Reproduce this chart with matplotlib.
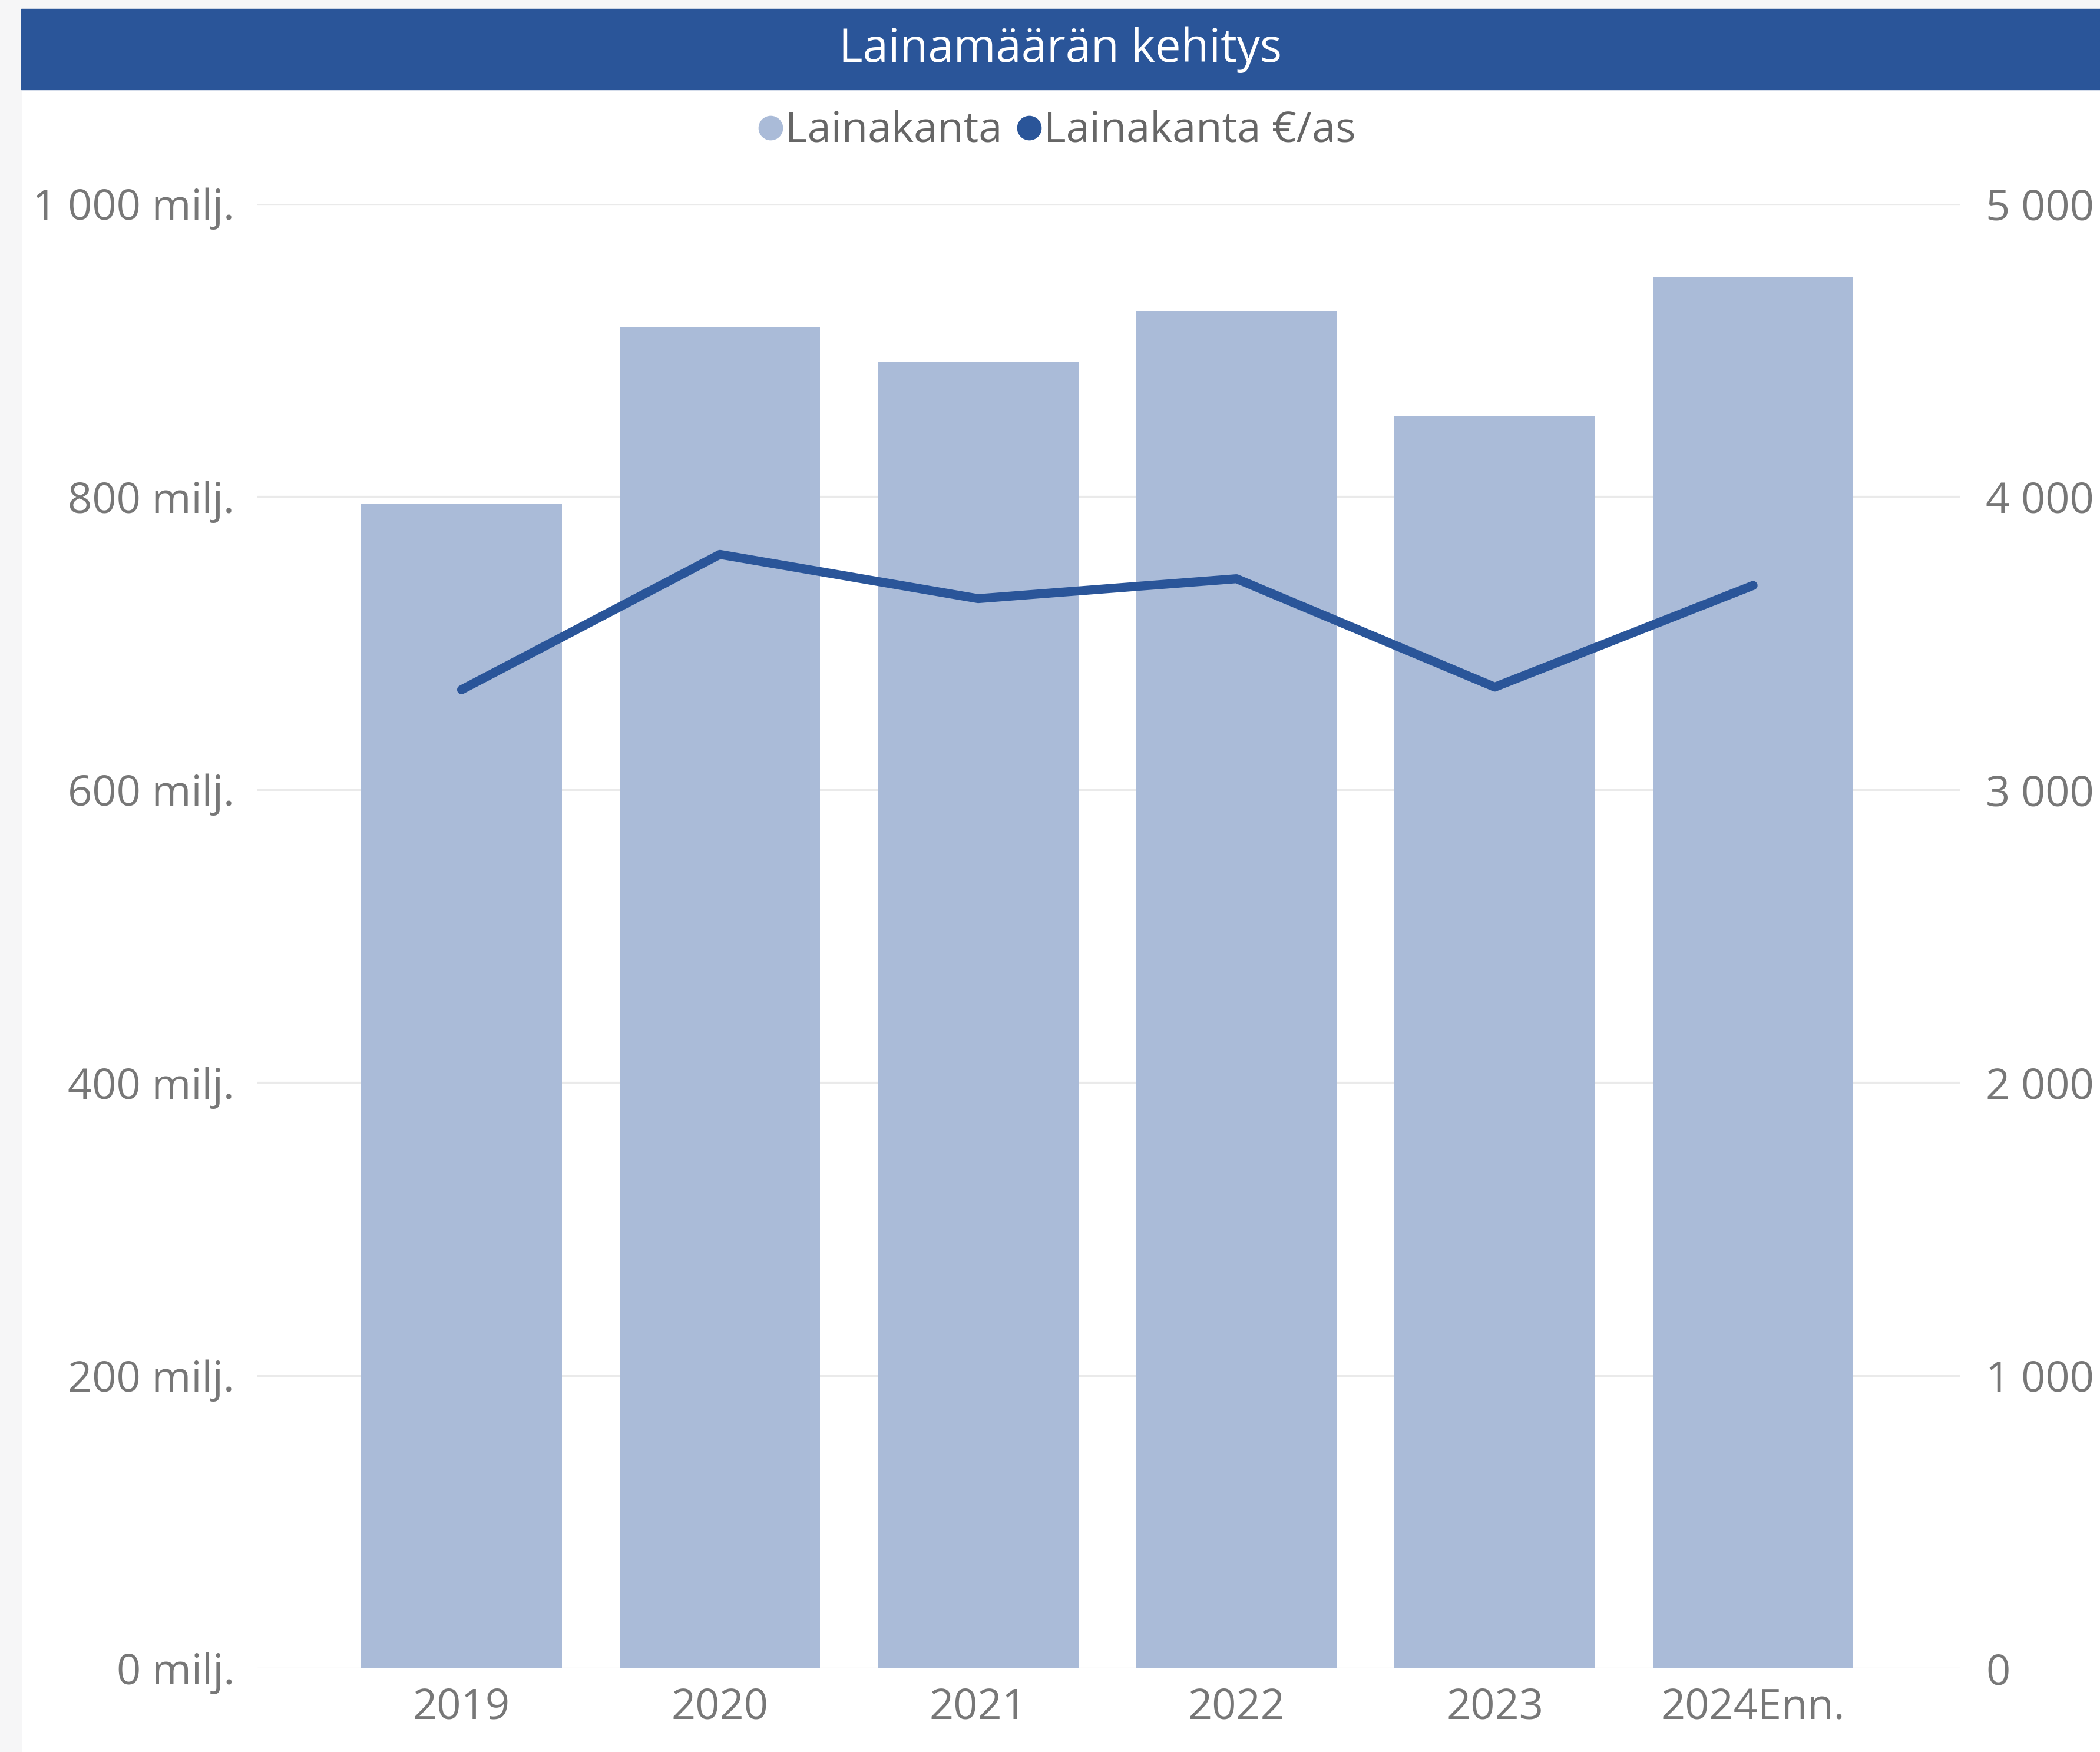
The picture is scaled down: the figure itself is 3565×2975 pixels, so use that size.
import matplotlib
matplotlib.use("Agg")
import matplotlib.pyplot as plt
from matplotlib.lines import Line2D
from matplotlib.patches import Rectangle

plt.rcParams['font.family'] = ['Open Sans', 'DejaVu Sans']

# data (loan stock in millions of euros, and euros per resident)
years = ['2019', '2020', '2021', '2022', '2023', '2024Enn.']
lainakanta = [795, 916, 892, 927, 855, 950]
lainakanta_per_as = [3341, 3803, 3652, 3720, 3350, 3697]

left_ticks = [0, 200, 400, 600, 800, 1000]
right_ticks = [0, 1000, 2000, 3000, 4000, 5000]

bar_color = '#AABBD8'
line_color = '#2A5599'
text_color = '#777777'

fig = plt.figure(figsize=(35.65, 29.75), dpi=100)

# page background strips and title bar
fig.patches.append(Rectangle((0, 0), 0.0101, 1, transform=fig.transFigure,
                             color='#F6F6F7', zorder=0))
fig.patches.append(Rectangle((0, 0.995), 1, 0.005, transform=fig.transFigure,
                             color='#F6F6F7', zorder=0))
fig.patches.append(Rectangle((0.0101, 0.9489), 0.9899, 0.0461, transform=fig.transFigure,
                             color=line_color, zorder=1))
fig.text(0.505, 0.9718, 'Lainamäärän kehitys', color='white', fontsize=56,
         ha='center', va='center')

ax = fig.add_axes([0.1226, 0.0477, 0.8106, 0.836])
ax2 = ax.twinx()

x = range(len(years))
ax.bar(x, lainakanta, width=0.777, color=bar_color, zorder=2)
ax.set_ylim(0, 1000)
ax.set_xlim(-0.79, len(years) - 1 + 0.80)
ax.set_yticks(left_ticks)
ax.set_yticklabels([f'{v:,} milj.'.replace(',', ' ') for v in left_ticks])
ax.set_xticks(list(x))
ax.set_xticklabels(years)
ax.grid(axis='y', color='#EAEAEA', linewidth=2.3, solid_capstyle='round', zorder=0)
ax.set_axisbelow(True)

ax2.plot(x, lainakanta_per_as, color=line_color, linewidth=11,
         solid_capstyle='round', solid_joinstyle='round', zorder=3)
ax2.set_ylim(0, 5000)
ax2.set_yticks(right_ticks)
ax2.set_yticklabels([f'{v:,}'.replace(',', ' ') for v in right_ticks])

for a in (ax, ax2):
    for s in a.spines.values():
        s.set_visible(False)
ax.tick_params(axis='y', length=0, pad=28, labelsize=52, labelcolor=text_color)
ax.tick_params(axis='x', length=0, pad=22, labelsize=52, labelcolor=text_color)
ax2.tick_params(axis='y', length=0, pad=32, labelsize=52, labelcolor=text_color)

handles = [
    Line2D([], [], linestyle='none', marker='o', markersize=29,
           markerfacecolor=bar_color, markeredgecolor=bar_color),
    Line2D([], [], linestyle='none', marker='o', markersize=29,
           markerfacecolor=line_color, markeredgecolor=line_color),
]
fig.legend(handles, ['Lainakanta', 'Lainakanta €/as'], loc='center',
           bbox_to_anchor=(0.504, 0.925), ncol=2, frameon=False, fontsize=52,
           handlelength=0.45, handletextpad=0.12, columnspacing=0.4,
           labelcolor='#666666')

fig.savefig('out.png', dpi=100, facecolor='white')
